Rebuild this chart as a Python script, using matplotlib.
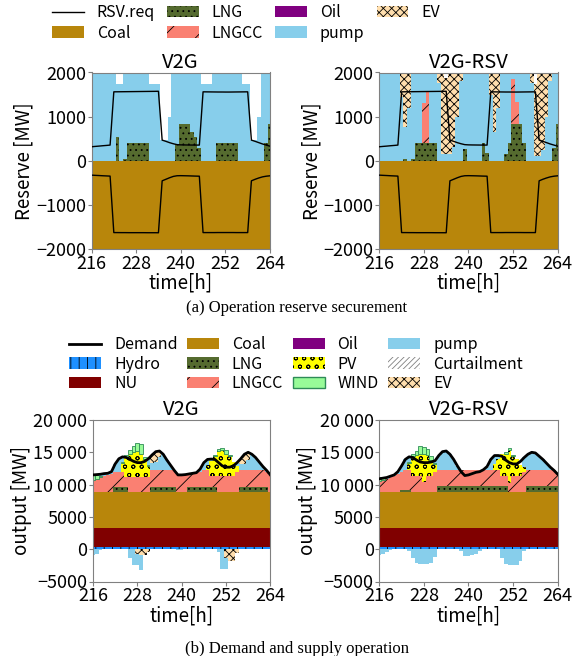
import numpy as np
import matplotlib
matplotlib.use("Agg")
import matplotlib.pyplot as plt
from matplotlib.patches import Patch
from matplotlib.lines import Line2D
from matplotlib.ticker import FuncFormatter

plt.rcParams['font.family'] = ['Noto Sans CJK JP', 'DejaVu Sans']
plt.rcParams['hatch.linewidth'] = 0.6
plt.rcParams['axes.unicode_minus'] = True

# ---------------- data (hourly, 216 .. 264) ----------------
hours = list(range(216, 265))
xticks = [216, 228, 240, 252, 264]

# (a) reserve securement
rsv_up = [317, 325, 332, 340, 347, 355, 1562, 1563, 1564, 1565, 1566, 1567, 1568, 1569, 1570, 1571,
          1572, 1573, 1575, 468, 440, 410, 385, 365, 360, 358, 357, 356, 355, 355, 1562, 1561,
          1560, 1559, 1558, 1558, 1557, 1557, 1558, 1559, 1560, 1561, 1562, 468, 440, 410, 380, 355, 330]
rsv_dn = [-326, -331, -335, -340, -344, -348, -1628, -1628, -1629, -1629, -1630, -1630, -1630, -1630,
          -1630, -1631, -1631, -1631, -1632, -455, -420, -385, -355, -340, -338, -340, -342, -345, -348,
          -350, -1628, -1628, -1628, -1628, -1627, -1627, -1627, -1627, -1627, -1628, -1628, -1628,
          -1628, -455, -420, -390, -365, -350, -341]

rsv_lng_v2g = [0, 0, 0, 0, 0, 0, 0, 540, 0, 50, 410, 410, 410, 410, 410, 410, 0, 0, 0, 0, 0, 0, 0,
               356, 830, 830, 830, 660, 530, 300, 0, 0, 0, 0, 410, 410, 410, 410, 410, 410, 0, 0, 0,
               0, 0, 0, 0, 400, 830]
rsv_lngcc_v2g = [0] * 49
rsv_oil_v2g = [0] * 49
rsv_pump_v2g = [2000, 2000, 2000, 2000, 2000, 2000, 2000, 1190, 1730, 1950, 1590, 1590, 1590, 1590,
                1590, 1590, 1750, 1750, 1750, 470, 470, 1000, 2000, 1640, 1170, 1170, 1170, 1340, 1470,
                1700, 1740, 1740, 1740, 2000, 1590, 1590, 1590, 1590, 1590, 1590, 2000, 1750, 1750,
                470, 470, 1000, 2000, 1600, 1170]
rsv_ev_v2g = [0] * 49
rsv_coal_v2g = [-2000] * 49

rsv_lng_rsv = [0, 0, 0, 0, 0, 0, 0, 30, 0, 50, 410, 410, 410, 410, 410, 410, 0, 0, 0, 0, 0, 0, 0,
               260, 0, 0, 0, 0, 410, 170, 0, 0, 0, 0, 150, 410, 830, 830, 830, 410, 0, 0, 0, 0, 0,
               0, 0, 300, 830]
rsv_lngcc_rsv = [0, 0, 0, 0, 0, 0, 0, 0, 0, 0, 0, 0, 890, 1155, 0, 0, 0, 0, 0, 0, 0, 0, 0, 0, 0,
                 0, 0, 0, 0, 0, 0, 0, 0, 0, 0, 0, 1018, 510, 0, 0, 0, 0, 0, 0, 0, 0, 0, 0, 0]
rsv_oil_rsv = [0] * 49
rsv_pump_rsv = [2000, 2000, 2000, 2000, 2000, 2000, 1450, 727, 1190, 1950, 1590, 1590, 700, 435,
                1590, 1590, 1760, 160, 160, 160, 320, 1000, 1800, 1740, 2000, 2000, 2000, 2000, 1590,
                1830, 1500, 660, 1190, 2000, 1850, 1590, 152, 660, 1170, 1590, 2000, 1760, 100, 100,
                250, 1000, 1800, 1700, 1170]
rsv_ev_rsv = [0, 0, 0, 0, 0, 0, 550, 1243, 810, 0, 0, 0, 0, 0, 0, 0, 240, 1840, 1720, 1840, 1680,
              1000, 200, 0, 0, 0, 0, 0, 0, 0, 500, 1340, 810, 0, 0, 0, 0, 0, 0, 0, 0, 240, 1650,
              1900, 1750, 1000, 200, 0, 0]
rsv_coal_rsv = [-2000] * 49

# (b) demand and supply
hydro = [300] * 49
nu = [3030] * 49
coal = [5590] * 49

dem_v2g = [11500, 11550, 11600, 11700, 11750, 12000, 13200, 14000, 14300, 14200, 13900, 13600, 13400,
           13400, 13600, 14000, 14600, 15100, 15200, 14700, 13800, 13000, 12200, 11500, 11500, 11550,
           11650, 11750, 11850, 12400, 13400, 13900, 13950, 13900, 13400, 12900, 12700, 12700, 12900,
           13400, 14000, 14700, 15000, 14700, 14200, 13500, 12800, 12200, 11500]
lng_v2g = [0, 0, 0, 0, 0, 0, 700, 700, 700, 700, 0, 0, 0, 0, 0, 0, 700, 700, 700, 700, 700, 700, 700,
           0, 0, 0, 700, 700, 700, 700, 700, 700, 700, 700, 0, 0, 0, 0, 0, 0, 700, 700, 700, 700, 700,
           700, 700, 700, 0]
lngcc_v2g = [1780, 1980, 2180, 2380, 2580, 2780, 2280, 2380, 2380, 1580, 2280, 2280, 2280, 2280, 2280,
             2280, 2630, 2630, 2630, 2630, 2630, 2630, 2580, 2580, 2580, 2630, 2030, 2130, 2230, 2380,
             2680, 2680, 1780, 1780, 2480, 2480, 2480, 2480, 2480, 3080, 2680, 2680, 2680, 2680, 2680,
             2680, 2680, 2380, 2580]
oil_v2g = [0] * 49
pv_v2g = [0, 0, 0, 0, 0, 0, 0, 0, 1300, 3000, 3500, 3900, 4000, 3600, 2700, 1700, 0, 0, 0, 0, 0, 0,
          0, 0, 0, 0, 0, 0, 0, 0, 0, 700, 2300, 3100, 3800, 3900, 3400, 3100, 2100, 900, 0, 0, 0, 0,
          0, 0, 0, 0, 0]
wind_v2g = [800, 650, 200, 0, 0, 0, 0, 0, 200, 400, 600, 900, 1300, 1500, 300, 100, 0, 0, 0, 0, 0, 0,
            0, 0, 0, 0, 0, 0, 0, 0, 0, 0, 0, 100, 300, 400, 500, 100, 0, 0, 0, 0, 0, 0, 0, 0, 0, 0, 0]
pump_v2g = [0, 0, 300, 400, 250, 300, 1300, 2000, 800, 0, 0, 0, 0, 0, 0, 1000, 1100, 1200, 2000, 2450,
            1550, 750, 0, 0, 0, 0, 0, 0, 0, 400, 1100, 800, 250, 0, 0, 0, 0, 0, 0, 500, 900, 900, 1500,
            2400, 1900, 1200, 500, 200, 0]
ev_v2g = [0, 0, 0, 0, 0, 0, 0, 0, 0, 0, 0, 0, 0, 0, 0, 0, 1250, 1650, 950, 0, 0, 0, 0, 0, 0, 0, 0, 0,
          0, 0, 0, 0, 0, 0, 0, 0, 0, 0, 0, 0, 800, 1500, 1200, 0, 0, 0, 0, 0, 0]
ev_chg_v2g = [0, 0, 0, 0, 0, 0, 0, 0, 0, 0, 0, 0, -700, -900, -900, -500, 0, 0, 0, 0, 0, 0, 0, 0, 0,
              0, 0, 0, 0, 0, 0, 0, 0, 0, 0, 0, -1400, -1900, -1900, -600, 0, 0, 0, 0, 0, 0, 0, 0, 0]
pump_chg_v2g = [-900, -700, -200, 0, 0, 0, 0, 0, 0, 0, -1400, -2400, -1800, -2300, 0, 0, 0, 0, 0, 0,
                0, 0, 0, -150, -150, 0, 0, 0, 0, 0, 0, 0, 0, 0, -500, -3100, -1700, 0, 0, 0, 0, 0, 0,
                0, 0, 0, 0, 0, 0]

dem_rsv = [10900, 11000, 11100, 11300, 11500, 12000, 12900, 13900, 14300, 14200, 13800, 13500, 13400,
           13400, 13500, 13700, 14500, 15100, 15200, 14700, 13900, 12900, 12000, 11400, 11500, 11700,
           11900, 12000, 12300, 12800, 13900, 14500, 14500, 14400, 13800, 13400, 13200, 13200, 13600,
           14200, 14700, 15000, 14900, 14400, 13900, 13300, 12700, 12200, 11600]
lng_rsv = [0, 0, 0, 0, 0, 0, 300, 300, 300, 0, 0, 0, 0, 0, 0, 0, 800, 800, 800, 800, 800, 800, 800,
           800, 800, 800, 800, 800, 800, 800, 800, 800, 800, 800, 800, 0, 0, 0, 0, 0, 800, 800, 800,
           800, 800, 800, 800, 800, 800]
lngcc_rsv = [1680, 1780, 1980, 2180, 2380, 2680, 2680, 3030, 3030, 2480, 2480, 2480, 1480, 2480, 2480,
             2980, 2530, 2530, 2530, 2530, 2530, 2530, 2530, 2530, 2530, 2530, 2530, 2530, 2530, 2530,
             2530, 2530, 2530, 1680, 1680, 1380, 2480, 2480, 2480, 3080, 2530, 2530, 2530, 2530, 2530,
             2530, 2530, 2530, 1880]
oil_rsv = [0] * 49
pv_rsv = [0, 0, 0, 0, 0, 0, 0, 0, 1100, 3100, 3200, 3300, 4300, 3200, 2400, 1300, 0, 0, 0, 0, 0, 0,
          0, 0, 0, 0, 0, 0, 0, 0, 0, 900, 1700, 3300, 3400, 5000, 3000, 2600, 1600, 800, 0, 0, 0, 0,
          0, 0, 0, 0, 0]
wind_rsv = [500, 400, 0, 0, 0, 0, 0, 0, 100, 200, 600, 1300, 1100, 900, 600, 100, 0, 0, 0, 0, 0, 0,
            0, 0, 0, 0, 0, 0, 0, 0, 0, 0, 0, 0, 300, 400, 200, 0, 0, 0, 0, 0, 0, 0, 0, 0, 0, 0, 0]
pump_rsv = [0, 0, 200, 200, 200, 400, 1000, 1650, 850, 0, 0, 0, 0, 0, 0, 400, 2250, 2850, 2950, 2450,
            1650, 650, 0, 0, 0, 0, 0, 0, 0, 550, 1650, 1350, 550, 0, 0, 0, 0, 0, 0, 1400, 2450, 2750,
            2650, 2150, 1650, 1050, 450, 0, 0]
ev_rsv = [0] * 49
ev_chg_rsv = [0] * 49
pump_chg_rsv = [-900, -800, -500, -100, 0, 0, 0, 0, -300, -1300, -2200, -2300, -2300, -2300, -2200,
                -1200, 0, 0, 0, 0, 0, 0, -300, -1000, -1000, -900, -700, -300, 0, 0, 0, 0, 0, -1300,
                -2300, -2400, -2400, -2400, -1800, -300, 0, 0, 0, 0, 0, 0, 0, 0, 0]

# ---------------- styles ----------------
STY = {
    'Coal': dict(facecolor='#B8860B'),
    'LNG': dict(facecolor='#556B2F', hatch='...'),
    'LNGCC': dict(facecolor='#FA8072', hatch='/'),
    'Oil': dict(facecolor='#800080'),
    'pump': dict(facecolor='#87CEEB'),
    'EV': dict(facecolor='#FFDEAD', hatch='xxxx'),
    'Hydro': dict(facecolor='#1E90FF', hatch='||'),
    'NU': dict(facecolor='#800000'),
    'PV': dict(facecolor='#FFFF00', hatch='oo'),
    'WIND': dict(facecolor='#98FB98'),
    'Curtailment': dict(facecolor='white', hatch='//////'),
}
WIND_EDGE = '#2E8B57'
SPINE = '#808080'

t = np.array(hours)


def stack(ax, layers):
    base = np.zeros(len(t))
    for name, vals in layers:
        v = np.asarray(vals, dtype=float)
        if name == 'WIND':
            m = v != 0
            ax.bar(t[m], v[m], bottom=base[m], width=1.0, facecolor=STY['WIND']['facecolor'],
                   edgecolor=WIND_EDGE, linewidth=0.6, zorder=2)
        else:
            st = STY[name]
            ax.fill_between(t, base, base + v, step='mid', facecolor=st['facecolor'],
                            hatch=st.get('hatch'), edgecolor='black', linewidth=0, zorder=2)
        base = base + v


def style_axes(ax, ylim, yticks, ylabel, title, fmt=None):
    ax.set_xlim(216, 264)
    ax.set_ylim(*ylim)
    ax.set_xticks(xticks)
    ax.set_yticks(yticks)
    if fmt is not None:
        ax.yaxis.set_major_formatter(FuncFormatter(fmt))
    ax.tick_params(labelsize=13, length=3, color=SPINE, pad=1)
    ax.set_xlabel('time[h]', fontsize=13.5, labelpad=0)
    ax.set_ylabel(ylabel, fontsize=13.5, labelpad=1)
    ax.set_title(title, fontsize=14.5, pad=3)
    for s in ax.spines.values():
        s.set_color(SPINE)


def fmt_b(v, pos):
    v = int(round(v))
    a = abs(v)
    s = f"{a:,}".replace(',', ' ') if a >= 10000 else str(a)
    return ('\u2212' if v < 0 else '') + s


fig = plt.figure(figsize=(5.81, 6.56), dpi=100)
W, H = 581.0, 656.0


def axes_px(x0, y0, x1, y1):
    return fig.add_axes([x0 / W, 1 - y1 / H, (x1 - x0) / W, (y1 - y0) / H])


# (a) panels
for (x0, x1), title, lng, lngcc, oil, pump, ev, cl in [
        ((91.5, 270.0), 'V2G', rsv_lng_v2g, rsv_lngcc_v2g, rsv_oil_v2g, rsv_pump_v2g, rsv_ev_v2g, rsv_coal_v2g),
        ((379.3, 557.7), 'V2G-RSV', rsv_lng_rsv, rsv_lngcc_rsv, rsv_oil_rsv, rsv_pump_rsv, rsv_ev_rsv, rsv_coal_rsv)]:
    ax = axes_px(x0, 72.5, x1, 249.0)
    stack(ax, [('LNG', lng), ('LNGCC', lngcc), ('Oil', oil), ('pump', pump), ('EV', ev)])
    stack(ax, [('Coal', cl)])
    ax.plot(t, rsv_up, color='black', lw=1.0, zorder=3)
    ax.plot(t, rsv_dn, color='black', lw=1.0, zorder=3)
    style_axes(ax, (-2000, 2000), [-2000, -1000, 0, 1000, 2000], 'Reserve [MW]', title)

# (b) panels
for (x0, x1), title, dem, lng, lngcc, oil, pv, wind, pump, ev, evc, pc in [
        ((93.0, 270.3), 'V2G', dem_v2g, lng_v2g, lngcc_v2g, oil_v2g, pv_v2g, wind_v2g, pump_v2g, ev_v2g,
         ev_chg_v2g, pump_chg_v2g),
        ((379.3, 557.7), 'V2G-RSV', dem_rsv, lng_rsv, lngcc_rsv, oil_rsv, pv_rsv, wind_rsv, pump_rsv, ev_rsv,
         ev_chg_rsv, pump_chg_rsv)]:
    ax = axes_px(x0, 420.0, x1, 581.5)
    stack(ax, [('Hydro', hydro), ('NU', nu), ('Coal', coal), ('LNG', lng), ('LNGCC', lngcc), ('Oil', oil),
               ('PV', pv), ('WIND', wind), ('pump', pump), ('EV', ev)])
    stack(ax, [('EV', evc), ('pump', pc)])
    ax.plot(t, dem, color='black', lw=2.0, zorder=4)
    style_axes(ax, (-5000, 20000), [-5000, 0, 5000, 10000, 15000, 20000], 'output [MW]', title, fmt_b)


def patch(name):
    st = STY[name]
    if name == 'WIND':
        return Patch(facecolor=st['facecolor'], edgecolor=WIND_EDGE, linewidth=1.0, label=name)
    ec = 'gray' if name == 'Curtailment' else 'black'
    return Patch(facecolor=st['facecolor'], hatch=st.get('hatch'), edgecolor=ec, linewidth=0, label=name)


top_handles = [Line2D([], [], color='black', lw=1.0, label='RSV.req')] + \
    [patch(n) for n in ['Coal', 'LNG', 'LNGCC', 'Oil', 'pump', 'EV']]
fig.legend(handles=top_handles, ncol=4, loc='center', bbox_to_anchor=(246 / W, 1 - 23 / H), frameon=False,
           fontsize=11.5, handlelength=2.0, handletextpad=0.8, columnspacing=0.75, labelspacing=0.2,
           borderpad=0.2)

bot_handles = [Line2D([], [], color='black', lw=2.0, label='Demand')] + \
    [patch(n) for n in ['Hydro', 'NU', 'Coal', 'LNG', 'LNGCC', 'Oil', 'PV', 'WIND', 'pump', 'Curtailment', 'EV']]
fig.legend(handles=bot_handles, ncol=4, loc='center', bbox_to_anchor=(296 / W, 1 - 364 / H), frameon=False,
           fontsize=11.5, handlelength=2.0, handletextpad=0.8, columnspacing=0.6, labelspacing=0.15,
           borderpad=0.2)

fig.text(297 / W, 1 - 308 / H, '(a) Operation reserve securement', ha='center', va='center',
         fontsize=12, family='Liberation Serif')
fig.text(297 / W, 1 - 649 / H, '(b) Demand and supply operation', ha='center', va='center',
         fontsize=12, family='Liberation Serif')

fig.savefig('out.png', dpi=100)
